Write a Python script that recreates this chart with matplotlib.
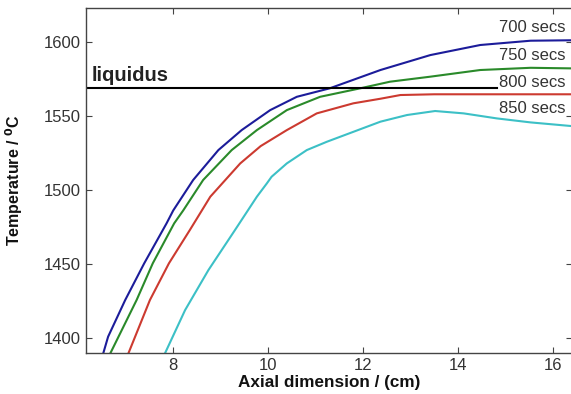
import matplotlib
matplotlib.use("Agg")
import matplotlib.pyplot as plt

plt.rcParams['font.family'] = ['Liberation Sans', 'DejaVu Sans']

# 700 secs
x700 = [6.54, 6.64, 7.0, 7.4, 7.87, 8.01, 8.43, 8.96, 9.45, 10.05, 10.61, 11.3, 12.37, 13.42, 14.47, 15.53, 16.4]
t700 = [1389.7, 1400.7, 1425.5, 1450.3, 1477.3, 1486, 1506.6, 1526.8, 1540.3, 1553.8, 1562.8, 1568.5, 1580.9, 1591, 1597.8, 1600.7, 1601]
# 750 secs
x750 = [6.69, 7.24, 7.58, 8.03, 8.22, 8.64, 9.24, 9.77, 10.4, 11.1, 11.94, 12.57, 13.42, 14.47, 15.53, 16.4]
t750 = [1389.7, 1425.5, 1450.3, 1477.3, 1486, 1506.6, 1526.8, 1540.3, 1553.8, 1562.8, 1568.5, 1573, 1576.4, 1580.9, 1582.4, 1582]
# 800 secs
x800 = [7.07, 7.52, 7.92, 8.36, 8.79, 9.42, 9.85, 10.4, 11.03, 11.8, 12.37, 12.79, 13.5, 14.5, 15.5, 16.4]
t800 = [1389.7, 1425.5, 1450.3, 1472.8, 1495.3, 1517.8, 1529.5, 1540.3, 1551.6, 1558.4, 1561.5, 1564, 1564.5, 1564.5, 1564.5, 1564.5]
# 850 secs
x850 = [7.84, 8.26, 8.75, 9.31, 9.77, 9.98, 10.08, 10.4, 10.82, 11.24, 12.37, 12.93, 13.52, 14.12, 14.82, 15.53, 16.4]
t850 = [1389.7, 1418.7, 1445.7, 1472.8, 1495.3, 1504.3, 1508.8, 1517.8, 1526.8, 1532.4, 1546, 1550.5, 1553.2, 1551.6, 1548.2, 1545.5, 1543]

labels = ['700 secs', '750 secs', '800 secs', '850 secs']
label_y = [1609.3, 1591, 1572.8, 1555.2]
colors = ['#1c1c9a', '#2a8a2a', '#cc3a30', '#3cc0c6']

liquidus_T = 1568.7
liquidus_x = [6.175, 14.82]

xticks = [8, 10, 12, 14, 16]
yticks = [1400, 1450, 1500, 1550, 1600]

W, H = 571, 394
fig = plt.figure(figsize=(W / 100, H / 100), dpi=100)
ax = fig.add_axes([86 / W, (H - 353) / H, 486 / W, 345 / H])

series = [(x700, t700), (x750, t750), (x800, t800), (x850, t850)]
for (xs, ts), c in zip(series, colors):
    ax.plot(xs, ts, color=c, lw=1.5, solid_joinstyle='round')

ax.plot(liquidus_x, [liquidus_T, liquidus_T], color='black', lw=1.5)
ax.text(6.30, 1577, 'liquidus', fontsize=14.5, fontweight='bold', color='#222222',
        ha='left', va='center')

for lab, ly in zip(labels, label_y):
    ax.text(14.87, ly, lab, fontsize=12, color='#333333', ha='left', va='center',
            clip_on=False)

ax.set_xlim(6.175, 16.4)
ax.set_ylim(1389.7, 1622.8)
ax.set_xticks(xticks)
ax.set_yticks(yticks)
ax.tick_params(direction='in', length=4, width=0.8, top=True, right=True,
               labelsize=12, labelcolor='#333333', color='#444444')
for s in ax.spines.values():
    s.set_color('#444444')
    s.set_linewidth(1.0)

ax.set_xlabel('Axial dimension / (cm)', fontsize=12.3, fontweight='bold', color='#111111')
ax.set_ylabel('Temperature / $\\mathbf{^0}$C', fontsize=11.5, fontweight='bold', color='#111111')
ax.xaxis.set_label_coords(0.5, -0.065)
ax.yaxis.set_label_coords(-0.126, 0.5)

fig.savefig('out.png', dpi=100)
